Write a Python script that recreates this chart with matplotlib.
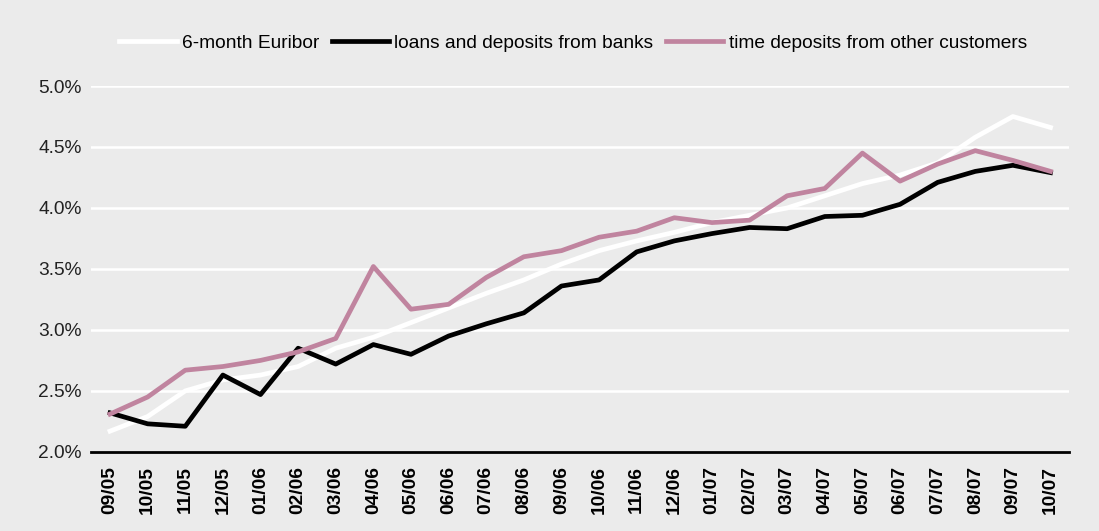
import matplotlib
matplotlib.use("Agg")
import matplotlib.pyplot as plt
from matplotlib.ticker import FuncFormatter

plt.rcParams['font.family'] = ['Liberation Sans', 'DejaVu Sans']

# Monthly rates, in percent
months = ['09/05', '10/05', '11/05', '12/05', '01/06', '02/06', '03/06', '04/06',
          '05/06', '06/06', '07/06', '08/06', '09/06', '10/06', '11/06', '12/06',
          '01/07', '02/07', '03/07', '04/07', '05/07', '06/07', '07/07', '08/07',
          '09/07', '10/07']
euribor = [2.17, 2.29, 2.50, 2.59, 2.63, 2.70, 2.85, 2.94, 3.06, 3.18,
           3.30, 3.41, 3.54, 3.65, 3.73, 3.80, 3.88, 3.94, 4.00, 4.10,
           4.20, 4.27, 4.37, 4.58, 4.75, 4.66]
banks = [2.32, 2.23, 2.21, 2.63, 2.47, 2.85, 2.72, 2.88, 2.80, 2.95,
         3.05, 3.14, 3.36, 3.41, 3.64, 3.73, 3.79, 3.84, 3.83, 3.93,
         3.94, 4.03, 4.21, 4.30, 4.35, 4.29]
customers = [2.31, 2.45, 2.67, 2.70, 2.75, 2.82, 2.93, 3.52, 3.17, 3.21,
             3.43, 3.60, 3.65, 3.76, 3.81, 3.92, 3.88, 3.90, 4.10, 4.16,
             4.45, 4.22, 4.36, 4.47, 4.39, 4.30]
yticks = [2.0, 2.5, 3.0, 3.5, 4.0, 4.5, 5.0]

bg = '#ebebeb'
fs = 13.8
lw = 3.4
fig = plt.figure(figsize=(10.99, 5.31), dpi=100, facecolor=bg)
ax = fig.add_axes([0.083, 0.149, 0.890, 0.689], facecolor=bg)

x = range(len(months))
ax.plot(x, euribor, color='white', lw=lw, label='6-month Euribor', zorder=3)
ax.plot(x, banks, color='black', lw=lw, label='loans and deposits from banks', zorder=4)
ax.plot(x, customers, color='#c0849f', lw=lw, label='time deposits from other customers', zorder=5)

ax.set_xlim(-0.5, len(months) - 0.5)
ax.set_ylim(yticks[0], yticks[-1])
ax.set_yticks(yticks)
ax.yaxis.set_major_formatter(FuncFormatter(lambda v, p: '%.1f%%' % v))
ax.set_xticks(list(x))
ax.set_xticklabels(months, rotation=90, fontweight='bold', fontsize=fs)
ax.tick_params(axis='y', labelsize=fs, length=0, pad=7, colors='#222222')
ax.tick_params(axis='x', length=0, pad=10)

ax.grid(axis='y', color='white', lw=1.8, zorder=1)
ax.set_axisbelow(True)
for side in ['top', 'right', 'left']:
    ax.spines[side].set_visible(False)
ax.spines['bottom'].set_linewidth(2)
ax.spines['bottom'].set_zorder(6)

fig.legend(loc='center', bbox_to_anchor=(0.5214, 0.919), ncol=3, frameon=False,
           fontsize=fs, handlelength=3.0, handletextpad=0.27, columnspacing=0.65)

fig.savefig('out.png', dpi=100, facecolor=bg)
